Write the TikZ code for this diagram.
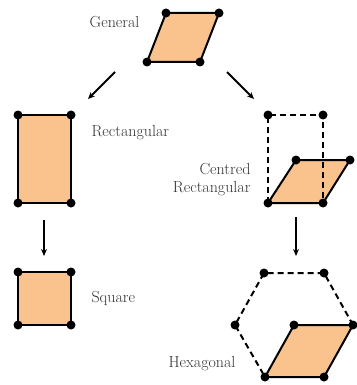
\documentclass[tikz,border=0pt]{standalone}
\usetikzlibrary{positioning,arrows.meta}

\definecolor{cellfill}{RGB}{250,194,140}

\tikzset{
  cell/.style={draw=black, fill=cellfill, line width=2pt, line join=round},
  ghost/.style={draw=black, line width=2pt, dash pattern=on 6pt off 4pt},
  site/.style={circle, fill=black, inner sep=0pt, minimum size=9pt},
  lab/.style={font=\fontsize{16}{18}\selectfont, text=black!80},
  flow/.style={-{Stealth[length=7pt,width=6pt]}, line width=2pt}
}

\begin{document}
\begin{tikzpicture}[x=1pt, y=-1pt]
\useasboundingbox (0,0) rectangle (356,385);

% lattice points (manual positions)
\coordinate (g1) at (166,13);  \coordinate (g2) at (219,13);
\coordinate (g3) at (200,62);  \coordinate (g4) at (147,62);

\coordinate (r1) at (18,115);  \coordinate (r2) at (71,115);
\coordinate (r3) at (71,203);  \coordinate (r4) at (18,203);

\coordinate (s1) at (18,272);  \coordinate (s2) at (71,272);
\coordinate (s3) at (71,325);  \coordinate (s4) at (18,325);

\coordinate (c1) at (268,115); \coordinate (c2) at (323,115);
\coordinate (c3) at (268,203); \coordinate (c4) at (323,203);
\coordinate (c5) at (350,160); \coordinate (c6) at (296,160);

\coordinate (h1) at (264,273); \coordinate (h2) at (324,273);
\coordinate (h3) at (353,325); \coordinate (h4) at (324,377);
\coordinate (h5) at (265,377); \coordinate (h6) at (235,325);
\coordinate (hc) at (294,325);

% unit cells
\draw[cell] (g1) -- (g2) -- (g3) -- (g4) -- cycle;
\draw[cell] (r1) -- (r2) -- (r3) -- (r4) -- cycle;
\draw[cell] (s1) -- (s2) -- (s3) -- (s4) -- cycle;
\draw[cell] (c3) -- (c4) -- (c5) -- (c6) -- cycle;
\draw[cell] (h5) -- (h4) -- (h3) -- (hc) -- cycle;

% conventional cells
\draw[ghost] (c3) -- (c1) -- (c2) -- (c4);
\draw[ghost] (h3) -- (h2) -- (h1) -- (h6) -- (h5);

\foreach \p in {g1,g2,g3,g4,r1,r2,r3,r4,s1,s2,s3,s4,c1,c2,c3,c4,c5,c6,h1,h2,h3,h4,h5,h6,hc}
  \node[site] at (\p) {};

% labels
\node[lab, anchor=east] (general) at (143,22) {General};
\node[lab, anchor=west] (rect) at (88,133) {Rectangular};
\node[lab, anchor=west] (square) at (88,298) {Square};
\node[lab, anchor=east, align=right] (centred) at (254,180) {Centred\\Rectangular};
\node[lab, anchor=east] (hex) at (239,364) {Hexagonal};

% arrows
\coordinate (a1s) at (115,72);  \coordinate (a1e) at (88,99);
\coordinate (a2s) at (227,72);  \coordinate (a2e) at (254,99);
\coordinate (a3s) at (44,220);  \coordinate (a3e) at (44,256);
\coordinate (a4s) at (296,217); \coordinate (a4e) at (296,256);

\draw[flow] (a1s) -- (a1e);
\draw[flow] (a2s) -- (a2e);
\draw[flow] (a3s) -- (a3e);
\draw[flow] (a4s) -- (a4e);

\end{tikzpicture}
\end{document}
